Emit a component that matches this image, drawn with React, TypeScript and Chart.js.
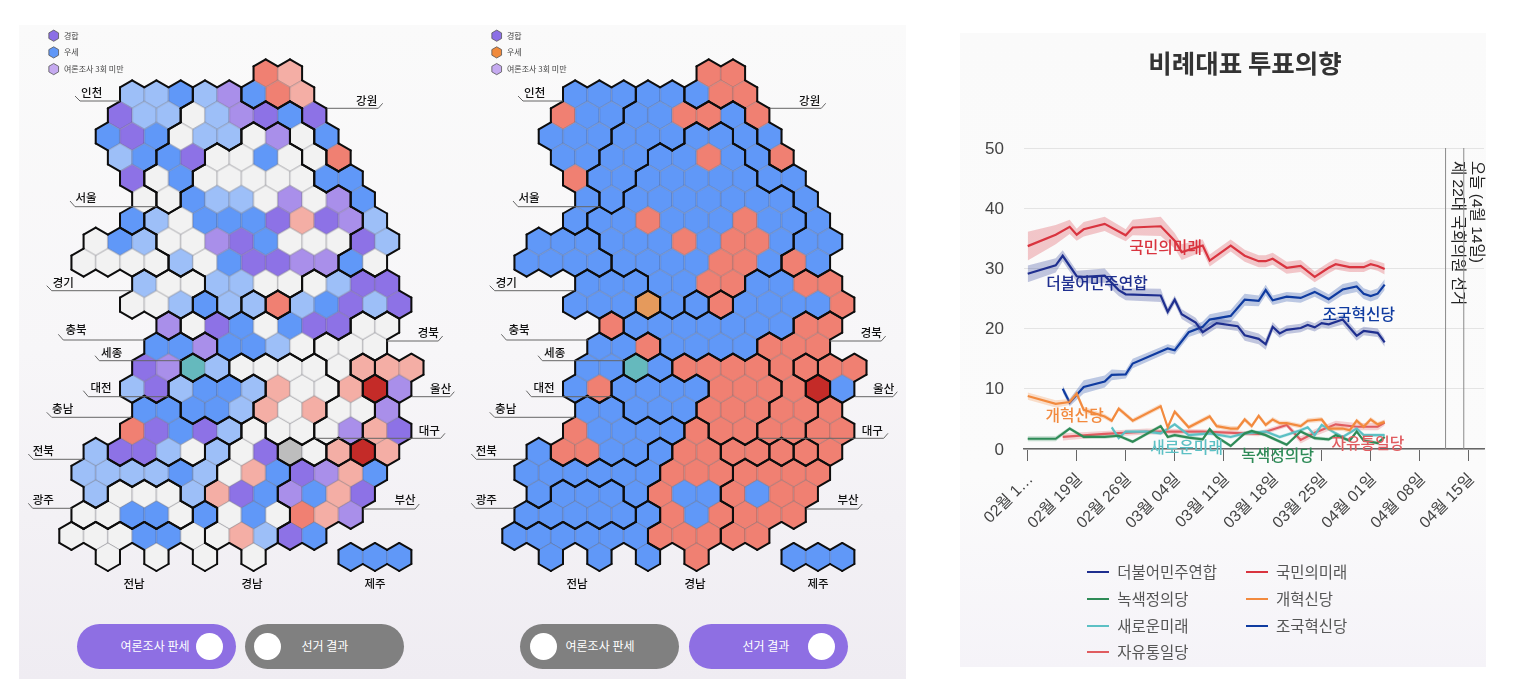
import { useEffect, useRef } from "react";
import { Chart, registerables } from "chart.js";

Chart.register(...registerables);

const KR = '"Noto Sans CJK KR", "Noto Sans", sans-serif';
const LATIN_KR = '"Liberation Sans", "Noto Sans CJK KR", sans-serif';

// ---- hex map data: one string per row, columns step by 2 from the row's start
const rowStarts = [17, 6, 5, 4, 5, 6, 7, 6, 3, 2, 7, 6, 9, 8, 7, 6, 7, 6, 3, 2, 3, 2, 1, 4];

const pollStates = [
  "RS",
  "LLBLVBRS",
  "PLLWLVPBP",
  "BPBWLLWVWB",
  "LBBPWWBWWR",
  "PWBWWWWWBB",
  "WWBLLWVWVB",
  "BLWBBBPSPVL",
  "WBLWWVPBWWWPL",
  "WWWWLWBPPVVBW",
  "LWWLLWWWLPP",
  "WWLBLLRLBPLP",
  "VWPBWBPPWW",
  "BBVBBLWWWW",
  "PVTLWWWWWSSS",
  "LPLBBLSWWSDV",
  "BBBBLSWSWWV",
  "RPBPLWWWWVSP",
  "LPPLWLWPGWSDS",
  "LLLLBLWSBPVSB",
  "LWWWLSPBVBSP",
  "WWBBWBWBWRSV",
  "WWWBBWWSLPB",
  "W.W.W.W...BBB",
];

const resultStates = [
  "RR",
  "BBBBBBRR",
  "RBBBBRRBR",
  "BBBBBBBBBB",
  "BBBBBBRBBR",
  "RBBBBBBBBB",
  "BBBBBBBBBB",
  "BBBRBBBRBBB",
  "BBBBBBRBRRBBB",
  "BBBBBBBBRRBRB",
  "BBBBBRRBBRR",
  "BBBOBBRBBBBR",
  "RBBBBBBBRR",
  "BBRBBBBRRR",
  "BBTBRRRRRRRR",
  "BRBBBBRRRRDB",
  "BBBBBRRRRRR",
  "RBBBBRRRRRRR",
  "BRRBBBRRRRRRR",
  "BBBBBBRRRRRRR",
  "BBBBBRBBRBRR",
  "BBBBBBRBRRRR",
  "BBBBBBRRRRR",
  "B.B.B.R...BBB",
];

// same shape as the state rows; a change of letter between neighbours is a thick border
const hexRegions = [
  "AA",
  "aaabbAAA",
  "aaabbbbbA",
  "aaabbbddbA",
  "aabbddddbA",
  "abbdddddbb",
  "abdddddddb",
  "adddddddddb",
  "eeeddddddddbb",
  "eeeedddddddbb",
  "fffddddhhhh",
  "fffxdyzhhhhh",
  "whhhhhhhss",
  "jjjhhhhsss",
  "jjkkrrrrs1tt",
  "jjllllrrrs2t",
  "mmlllrrrss3",
  "mmmmmqrrss33",
  "ommmmoqquu453",
  "ooooooqqqvvvv",
  "onnnoqqqvvvv",
  "nnnnnpqqqvvv",
  "ppppppqqqvv",
  "p.p.p.q...JJJ",
];

const stateColors: Record<string, string> = {
  W: "#f2f2f2",
  L: "#9dbff8",
  B: "#6098f8",
  P: "#8d72e6",
  V: "#a98fea",
  R: "#f08072",
  S: "#f4aea5",
  D: "#c42b28",
  T: "#65b9bd",
  G: "#bdbdbd",
  O: "#e59a5c",
};

const legendTexts = ["경합", "우세", "여론조사 3회 미만"];
const pollLegendColors = ["#8b6fe6", "#6097f7", "#c5aaf0"];
const resultLegendColors = ["#8b6fe6", "#f08a3c", "#c5aaf0"];

// label, text x, text y, then the leader line as x,y pairs (left map page pixels)
const regionLabels: [string, number, number, number[]][] = [
  ["인천", 91.7, 92.7, [75, 96, 80, 101, 120, 101]],
  ["강원", 366.7, 101, [326.7, 108.3, 378.3, 108.3, 382.7, 103.3]],
  ["서울", 86, 197.7, [70, 201, 75, 206.7, 156.7, 206.7]],
  ["경기", 63.3, 282.3, [46.7, 285.7, 51.7, 290.7, 131.7, 290.7]],
  ["충북", 76, 330, [58.3, 334.3, 63.3, 340, 145, 340]],
  ["세종", 111.7, 352.3, [95, 355.7, 99.3, 360.7, 181.7, 360.7]],
  ["대전", 101, 387.7, [83.3, 390.7, 88.3, 396.7, 168.3, 396.7]],
  ["충남", 62.7, 408.3, [46.7, 412.3, 51.7, 417.3, 131.7, 417.3]],
  ["전북", 43.3, 450.7, [28.3, 454, 33.3, 459.3, 83.3, 459.3]],
  ["광주", 43.3, 499.3, [28.3, 503.3, 32.7, 508.3, 71.7, 508.3]],
  ["경북", 428.3, 332.7, [386.7, 341, 438.3, 341, 442.7, 336]],
  ["울산", 440.7, 388.3, [411.7, 396.7, 450, 396.7, 454.3, 391.7]],
  ["대구", 429.3, 431, [315, 438.3, 440.7, 438.3, 445, 433.3]],
  ["부산", 405, 499.3, [363.3, 509, 415, 509, 419.3, 504]],
  ["전남", 134, 584, []],
  ["경남", 252, 584, []],
  ["제주", 375, 584, []],
];

// ---- poll series (day counted from 02월 12일, value, half width of the band)
const partyNames = ["더불어민주연합", "국민의미래", "녹색정의당", "개혁신당", "새로운미래", "조국혁신당", "자유통일당"];
const partyColors = ["#1f2f8f", "#d9343f", "#2e8b57", "#f28a3e", "#5cc0c4", "#0f3ba0", "#e05c60"];

const democraticDays = [0, 4, 5, 7, 8, 11, 13, 14, 19, 20, 21, 22, 24, 25, 27, 30, 31, 33, 34, 35, 36, 37, 39, 40, 41, 42, 43, 45, 47, 48, 50, 51];
const democraticValues = [29.1, 30.5, 32.1, 28.7, 28.6, 28.8, 26.4, 25.7, 25.5, 22.8, 24.8, 22.4, 21, 19.4, 20.9, 20.4, 18.9, 18.3, 17.4, 20.3, 19.2, 19.8, 20.1, 20.6, 20.2, 20.9, 20.7, 21.5, 18.8, 19.6, 19.3, 17.7];
const democraticBand = [1.4, 1.2, 0.9, 0.9, 1.1, 1.2, 1, 1, 1.1, 0.7, 0.7, 0.8, 0.8, 0.8, 0.8, 0.8, 0.9, 0.9, 0.9, 0.8, 0.7, 0.7, 0.7, 0.7, 0.7, 0.7, 0.7, 0.8, 0.8, 0.7, 0.7, 0.7];

const futureDays = [0, 4, 6, 7, 8, 11, 14, 15, 19, 21, 22, 25, 26, 29, 31, 33, 34, 35, 37, 39, 41, 43, 44, 46, 48, 49, 50, 51];
const futureValues = [33.7, 35.6, 36.9, 35.6, 36.5, 37.4, 35.5, 36.8, 37, 34.6, 32.7, 33.8, 31.3, 33.8, 32.1, 31.2, 31.2, 31.6, 30.1, 30.4, 28.6, 30.1, 30.7, 30.2, 30.2, 30.7, 30.4, 29.9];
const futureBand = [2.4, 1.6, 1.2, 1, 1.2, 1.2, 1, 1.3, 1.6, 1.3, 1.3, 1, 1, 1, 1, 1, 1, 1, 1, 1, 0.9, 0.9, 0.9, 0.8, 0.8, 0.8, 0.8, 0.9];

const greenDays = [0, 4, 6, 8, 11, 13, 15, 19, 20, 21, 23, 25, 26, 27, 29, 31, 32, 34, 37, 39, 41, 43, 44, 46, 47, 48, 50, 51];
const greenValues = [1.7, 1.7, 3.4, 2, 2, 2.2, 1.2, 3.8, 2, 2.3, 1.9, 1.6, 3.3, 2, 0.5, 2.6, 3, 2.3, 0.7, 2.9, 1.8, 1.6, 2.3, 1.4, 2.9, 1.4, 1, 2];
const greenBand = [0.4, 0.4, 0.3, 0.3, 0.3, 0.3, 0.3, 0.3, 0.3, 0.3, 0.3, 0.3, 0.3, 0.3, 0.3, 0.3, 0.3, 0.3, 0.3, 0.3, 0.3, 0.3, 0.3, 0.3, 0.3, 0.3, 0.3, 0.3];

const reformDays = [0, 4, 6, 7, 8, 11, 12, 13, 15, 19, 20, 21, 23, 26, 27, 29, 30, 31, 32, 33, 34, 35, 36, 37, 39, 40, 42, 43, 45, 46, 47, 48, 49, 50, 51];
const reformValues = [8.8, 7.5, 7.8, 9.2, 6.5, 5.4, 4.7, 6.7, 4.7, 7.1, 3.6, 6.2, 3.6, 5.4, 3.8, 3.4, 3.4, 4.9, 3.8, 5.5, 4, 4.9, 4.3, 4.3, 3.8, 4.7, 4.9, 3.4, 3.4, 3.1, 4.7, 3.7, 4.9, 4.1, 4.5];
const reformBand = [0.6, 0.6, 0.5, 0.5, 0.5, 0.4, 0.4, 0.4, 0.4, 0.4, 0.4, 0.4, 0.4, 0.4, 0.4, 0.4, 0.4, 0.4, 0.4, 0.4, 0.4, 0.4, 0.4, 0.4, 0.4, 0.4, 0.4, 0.4, 0.4, 0.4, 0.4, 0.4, 0.4, 0.4, 0.4];

const newFutureDays = [12, 13, 14, 17, 19, 21, 23, 26, 29, 31, 34, 36, 39, 40, 41, 42, 44, 45, 47, 48, 51];
const newFutureValues = [3.6, 1.8, 2.9, 2.9, 2.6, 4.1, 2.3, 2.6, 2, 2.6, 2.9, 2, 3.1, 3.6, 2.3, 4, 2.6, 2, 3.4, 2.3, 2.3];
const newFutureBand = [0.3, 0.3, 0.3, 0.3, 0.3, 0.3, 0.3, 0.3, 0.3, 0.3, 0.3, 0.3, 0.3, 0.3, 0.3, 0.3, 0.3, 0.3, 0.3, 0.3, 0.3];

const rebuildDays = [5, 6, 8, 11, 12, 14, 15, 20, 21, 23, 25, 26, 29, 31, 33, 34, 35, 37, 39, 41, 43, 45, 47, 48, 49, 50, 51];
const rebuildValues = [10, 7.7, 10.3, 11.2, 12.3, 12.4, 14.2, 16.7, 16.4, 19.4, 20.3, 21.5, 22.1, 24.8, 24.6, 26.4, 24.7, 25.3, 25.1, 26.1, 24.9, 26.5, 27, 25.8, 25.4, 25.8, 27.3];
const rebuildBand = [0.6, 0.6, 1.1, 1, 0.9, 0.7, 0.8, 0.7, 0.7, 0.8, 0.9, 0.9, 1, 1, 0.9, 0.9, 0.8, 0.8, 0.8, 0.8, 0.8, 0.9, 0.9, 0.9, 0.9, 0.9, 0.9];

const unifyDays = [5, 11, 17, 25, 33, 37, 39, 41, 44, 47, 50, 51];
const unifyValues = [2, 2.5, 2.9, 2.9, 2.5, 4, 1.5, 2.7, 4.1, 3.7, 3.7, 4.4];
const unifyBand = [0.6, 0.5, 0.5, 0.4, 0.4, 0.4, 0.6, 0.6, 0.6, 0.6, 0.6, 0.5];

const seriesDays = [democraticDays, futureDays, greenDays, reformDays, newFutureDays, rebuildDays, unifyDays];
const seriesValues = [democraticValues, futureValues, greenValues, reformValues, newFutureValues, rebuildValues, unifyValues];
const seriesBands = [democraticBand, futureBand, greenBand, reformBand, newFutureBand, rebuildBand, unifyBand];

const tickDays = [0, 7, 14, 21, 28, 35, 42, 49, 56, 63];
const tickLabels = ["02월 1…", "02월 19일", "02월 26일", "03월 04일", "03월 11일", "03월 18일", "03월 25일", "04월 01일", "04월 08일", "04월 15일"];

// party name written next to its line: day, value
const lineLabelDays = [9.9, 19.7, 35.7, 6.7, 22.7, 47.3, 48.6];
const lineLabelValues = [27.5, 33.6, -1, 5.6, 0.33, 22.5, 1];

const eventDays = [59.7, 62.3];
const eventLabels = ["제 22대 국회의원 선거", "오늘 (4월 14일)"];

// ---- hex helpers
const MAP_LEFT = 20;
const MAP_TOP = 25;
const MAP_W = 440;
const MAP_H = 580;
const STEP_X = 12.14;
const STEP_Y = 21.03;
const HEX_R = (STEP_X * 2) / Math.sqrt(3);

const hexPath = (ctx: CanvasRenderingContext2D, cx: number, cy: number, r: number) => {
  ctx.beginPath();
  for (let i = 0; i < 6; i++) {
    const a = ((60 * i - 90) * Math.PI) / 180;
    const px = cx + r * Math.cos(a);
    const py = cy + r * Math.sin(a);
    if (i === 0) ctx.moveTo(px, py);
    else ctx.lineTo(px, py);
  }
  ctx.closePath();
};

const makeSprite = (color: string) => {
  const c = document.createElement("canvas");
  c.width = 30;
  c.height = 32;
  const ctx = c.getContext("2d")!;
  hexPath(ctx, 15, 16, HEX_R);
  ctx.fillStyle = color;
  ctx.fill();
  ctx.strokeStyle = "rgba(70,70,80,0.45)";
  ctx.lineWidth = 0.7;
  ctx.stroke();
  return c;
};

const buildCells = (states: string[]) => {
  const cells: { x: number; y: number; state: string; region: string }[] = [];
  states.forEach((row, r) => {
    row.split("").forEach((state, i) => {
      if (state === ".") return;
      cells.push({ x: rowStarts[r] + i * 2, y: r, state, region: hexRegions[r][i] });
    });
  });
  return cells;
};

// neighbour offset and the two corners (as angle index) of the shared edge
const neighbours = [
  { dx: 1, dy: -1, a: 0, b: 1 },
  { dx: 2, dy: 0, a: 1, b: 2 },
  { dx: 1, dy: 1, a: 2, b: 3 },
  { dx: -1, dy: 1, a: 3, b: 4 },
  { dx: -2, dy: 0, a: 4, b: 5 },
  { dx: -1, dy: -1, a: 5, b: 0 },
];

const regionBorders = {
  id: "regionBorders",
  afterDatasetsDraw(chart: any) {
    const { ctx, scales } = chart;
    const cells = chart.data.datasets[0].data;
    const lookup = new Map<string, string>();
    cells.forEach((c: any) => lookup.set(c.x + "," + c.y, c.region));
    ctx.save();
    ctx.strokeStyle = "#0d0d0d";
    ctx.lineWidth = 2;
    ctx.lineCap = "round";
    cells.forEach((c: any) => {
      const cx = scales.x.getPixelForValue(c.x);
      const cy = scales.y.getPixelForValue(c.y);
      neighbours.forEach((n) => {
        if (lookup.get(c.x + n.dx + "," + (c.y + n.dy)) === c.region) return;
        const a1 = ((60 * n.a - 90) * Math.PI) / 180;
        const a2 = ((60 * n.b - 90) * Math.PI) / 180;
        ctx.beginPath();
        ctx.moveTo(cx + HEX_R * Math.cos(a1), cy + HEX_R * Math.sin(a1));
        ctx.lineTo(cx + HEX_R * Math.cos(a2), cy + HEX_R * Math.sin(a2));
        ctx.stroke();
      });
    });
    ctx.restore();
  },
};

const mapNotes = {
  id: "mapNotes",
  afterDraw(chart: any, _args: any, opts: any) {
    const { ctx } = chart;
    ctx.save();
    ctx.translate(-MAP_LEFT, -MAP_TOP);
    regionLabels.forEach(([text, x, y, line]) => {
      if (line.length) {
        ctx.strokeStyle = "#666";
        ctx.lineWidth = 1;
        ctx.beginPath();
        for (let i = 0; i < line.length; i += 2) {
          if (i === 0) ctx.moveTo(line[i], line[i + 1]);
          else ctx.lineTo(line[i], line[i + 1]);
        }
        ctx.stroke();
      }
      ctx.fillStyle = "#111";
      ctx.font = "500 11.5px " + KR;
      ctx.textAlign = "center";
      ctx.textBaseline = "middle";
      ctx.fillText(text, x, y);
    });
    legendTexts.forEach((text, i) => {
      const y = 35.7 + i * 16.7;
      hexPath(ctx, 53.7, y, 5.6);
      ctx.fillStyle = opts.legend[i];
      ctx.fill();
      ctx.strokeStyle = "#555";
      ctx.lineWidth = 0.8;
      ctx.stroke();
      ctx.fillStyle = "#444";
      ctx.font = "8px " + KR;
      ctx.textAlign = "left";
      ctx.textBaseline = "middle";
      ctx.fillText(text, 64, y);
    });
    ctx.restore();
  },
};

const chartNotes = {
  id: "chartNotes",
  afterDatasetsDraw(chart: any) {
    const { ctx, scales, chartArea } = chart;
    ctx.save();
    eventDays.forEach((day, i) => {
      const x = scales.x.getPixelForValue(day);
      ctx.strokeStyle = "#8a8a8a";
      ctx.lineWidth = 1;
      ctx.beginPath();
      ctx.moveTo(x, chartArea.top);
      ctx.lineTo(x, chartArea.bottom);
      ctx.stroke();
      ctx.save();
      ctx.translate(x + (i === 0 ? 11.5 : 13), chartArea.top + 13);
      ctx.rotate(Math.PI / 2);
      ctx.fillStyle = "#222";
      ctx.font = "15.5px " + LATIN_KR;
      ctx.textAlign = "left";
      ctx.textBaseline = "middle";
      ctx.fillText(eventLabels[i], 0, 0);
      ctx.restore();
    });
    partyNames.forEach((name, i) => {
      ctx.fillStyle = partyColors[i];
      ctx.font = "500 15.8px " + KR;
      ctx.textAlign = "center";
      ctx.textBaseline = "middle";
      ctx.fillText(name, scales.x.getPixelForValue(lineLabelDays[i]), scales.y.getPixelForValue(lineLabelValues[i]));
    });
    ctx.restore();
  },
};

const HexMap = ({ states, legend, left }: { states: string[]; legend: string[]; left: number }) => {
  const canvasRef = useRef<HTMLCanvasElement | null>(null);

  useEffect(() => {
    if (!canvasRef.current) return;
    const sprites: Record<string, HTMLCanvasElement> = {};
    Object.keys(stateColors).forEach((k) => (sprites[k] = makeSprite(stateColors[k])));
    const xMin = -39.3 / STEP_X;
    const yMin = (MAP_TOP - 73.3) / STEP_Y;
    const chart = new Chart(canvasRef.current, {
      type: "scatter",
      data: {
        datasets: [
          {
            data: buildCells(states) as any,
            pointRadius: 12,
            pointStyle: (ctx: any) => sprites[ctx.raw.state],
          },
        ],
      },
      options: {
        animation: false,
        responsive: false,
        events: [],
        layout: { padding: 0, autoPadding: false },
        scales: {
          x: { type: "linear", display: false, min: xMin, max: xMin + MAP_W / STEP_X },
          y: { type: "linear", display: false, reverse: true, min: yMin, max: yMin + MAP_H / STEP_Y },
        },
        plugins: { legend: { display: false }, tooltip: { enabled: false }, mapNotes: { legend } } as any,
      },
      plugins: [regionBorders, mapNotes],
    });
    return () => chart.destroy();
  }, [states, legend]);

  return <canvas ref={canvasRef} width={MAP_W} height={MAP_H} style={{ position: "absolute", left, top: MAP_TOP }} />;
};

const PollChart = () => {
  const canvasRef = useRef<HTMLCanvasElement | null>(null);

  useEffect(() => {
    if (!canvasRef.current) return;
    const datasets: any[] = [];
    partyNames.forEach((name, i) => {
      const days = seriesDays[i];
      const values = seriesValues[i];
      const band = seriesBands[i];
      datasets.push({
        label: name,
        data: days.map((d, k) => ({ x: d, y: values[k] })),
        borderColor: partyColors[i],
        borderWidth: 2.2,
        pointRadius: 0,
        tension: 0,
        fill: false,
      });
      datasets.push({
        label: name + " 상한",
        data: days.map((d, k) => ({ x: d, y: values[k] + band[k] })),
        borderWidth: 0,
        pointRadius: 0,
        fill: false,
      });
      datasets.push({
        label: name + " 하한",
        data: days.map((d, k) => ({ x: d, y: values[k] - band[k] })),
        borderWidth: 0,
        pointRadius: 0,
        fill: "-1",
        backgroundColor: partyColors[i] + "44",
      });
    });
    const chart = new Chart(canvasRef.current, {
      type: "line",
      data: { datasets },
      options: {
        animation: false,
        responsive: false,
        events: [],
        layout: { padding: { top: 115, right: 2 }, autoPadding: false },
        plugins: { legend: { display: false }, tooltip: { enabled: false } },
        scales: {
          x: {
            type: "linear",
            min: -0.53,
            max: 65.19,
            afterFit: (s: any) => {
              // rotated tick labels must not eat into the plot width
              s.height = 218;
              s.paddingLeft = 0;
              s.paddingRight = 0;
            },
            afterBuildTicks: (s: any) => {
              s.ticks = tickDays.map((value) => ({ value }));
            },
            grid: { drawOnChartArea: false, tickLength: 12, color: "#666" },
            border: { color: "#666", width: 1.5 },
            ticks: {
              autoSkip: false,
              minRotation: 45,
              maxRotation: 45,
              padding: 9,
              labelOffset: 3,
              color: "#444",
              font: { family: LATIN_KR, size: 16 },
              callback: (_v: any, i: number) => tickLabels[i],
            },
          },
          y: {
            min: 0,
            max: 50,
            afterFit: (s: any) => {
              s.width = 64;
            },
            grid: { color: "#e4e4e4", drawTicks: false },
            border: { display: false },
            ticks: { stepSize: 10, padding: 20, labelOffset: 1, color: "#444", font: { family: LATIN_KR, size: 17 } },
          },
        },
      },
      plugins: [chartNotes],
    });
    return () => chart.destroy();
  }, []);

  return <canvas ref={canvasRef} width={526} height={634} style={{ position: "absolute", left: 960, top: 33 }} />;
};

const Pill = ({ left, active, text, textX, knobX }: { left: number; active: boolean; text: string; textX: number; knobX: number }) => (
  <>
    <div
      style={{
        position: "absolute",
        left,
        top: 624,
        width: 159,
        height: 45,
        borderRadius: 23,
        background: active ? "#8e6fe3" : "#808080",
      }}
    />
    <div
      style={{
        position: "absolute",
        left: knobX - 13.5,
        top: 632.5,
        width: 27,
        height: 27,
        borderRadius: "50%",
        background: "#fff",
      }}
    />
    <div
      style={{
        position: "absolute",
        left: textX - 50,
        width: 100,
        top: 637,
        textAlign: "center",
        color: "#fff",
        font: "400 12px " + KR,
        lineHeight: "18px",
      }}
    >
      {text}
    </div>
  </>
);

export default function App() {
  return (
    <div
      style={{
        position: "absolute",
        left: 0,
        top: 0,
        width: 1514,
        height: 700,
        overflow: "hidden",
        background: "#fff",
        filter: "blur(0.3px)",
      }}
    >
      <div
        style={{
          position: "absolute",
          left: 19,
          top: 25,
          width: 887,
          height: 654,
          background: "linear-gradient(180deg, #fafafa 0%, #f7f6f8 50%, #efecf2 100%)",
        }}
      />
      <div
        style={{
          position: "absolute",
          left: 960,
          top: 33,
          width: 526,
          height: 634,
          background: "linear-gradient(180deg, #fafafa 0%, #fbfbfb 70%, #f5f3f8 100%)",
        }}
      />
      <HexMap states={pollStates} legend={pollLegendColors} left={MAP_LEFT} />
      <HexMap states={resultStates} legend={resultLegendColors} left={463} />
      <Pill left={77} active text="여론조사 판세" textX={155} knobX={209.7} />
      <Pill left={245} active={false} text="선거 결과" textX={325} knobX={267.5} />
      <Pill left={520} active={false} text="여론조사 판세" textX={600} knobX={543} />
      <Pill left={689} active text="선거 결과" textX={766} knobX={821} />
      <PollChart />
      <div
        style={{
          position: "absolute",
          left: 1045,
          width: 400,
          top: 44,
          textAlign: "center",
          color: "#333",
          font: "700 25.5px " + KR,
          lineHeight: "36px",
        }}
      >
        비례대표 투표의향
      </div>
      {partyNames.map((name, i) => {
        const x = 1087.3 + (i % 2) * 158.7;
        const y = 572.3 + Math.floor(i / 2) * 26.67;
        return (
          <div key={name}>
            <div style={{ position: "absolute", left: x, top: y - 1, width: 22, height: 2, background: partyColors[i] }} />
            <div
              style={{
                position: "absolute",
                left: x + 30,
                top: y - 12,
                color: "#555",
                font: "15.5px " + KR,
                lineHeight: "22px",
                whiteSpace: "nowrap",
              }}
            >
              {name}
            </div>
          </div>
        );
      })}
    </div>
  );
}
